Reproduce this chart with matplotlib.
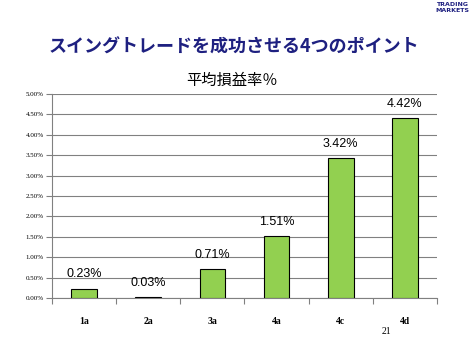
import matplotlib
matplotlib.use("Agg")
import matplotlib.pyplot as plt
from matplotlib.ticker import FuncFormatter, MultipleLocator

categories = ["1a", "2a", "3a", "4a", "4c", "4d"]
values = [0.23, 0.03, 0.71, 1.51, 3.42, 4.42]
value_labels = ["0.23%", "0.03%", "0.71%", "1.51%", "3.42%", "4.42%"]

plt.rcParams['font.family'] = ['Noto Sans CJK JP', 'DejaVu Sans']

fig = plt.figure(figsize=(4.75, 3.52), dpi=100)
fig.patch.set_facecolor("white")

ax = fig.add_axes([52/475, 1-298/352, (437-52)/475, (298-94)/352])
x = list(range(len(categories)))
ax.bar(x, values, width=0.40, color="#92D050", edgecolor="black", linewidth=0.8, zorder=3)
for xi, v, lab in zip(x, values, value_labels):
    ax.text(xi, v + 0.2, lab, ha="center", va="bottom", fontsize=9,
            family=["Liberation Sans", "DejaVu Sans"], color="black")

ax.set_xlim(-0.5, len(categories) - 0.5)
ax.set_ylim(0, 5.0)
ax.yaxis.set_major_locator(MultipleLocator(0.5))
ax.yaxis.set_major_formatter(FuncFormatter(lambda v, p: f"{v:.2f}%"))
ax.grid(axis="y", color="#808080", linewidth=0.8, zorder=0)
ax.set_xticks([i - 0.5 for i in range(len(categories) + 1)], minor=False)
ax.set_xticklabels([])
ax.set_xticks(x, minor=True)
ax.set_xticklabels(categories, minor=True)
ax.tick_params(axis="x", which="major", length=4, color="#808080", direction="out")
ax.tick_params(axis="x", which="minor", length=0, pad=14)
for lab in ax.get_xticklabels(minor=True):
    lab.set_family(["Liberation Serif", "DejaVu Serif"])
    lab.set_fontweight("bold")
    lab.set_fontsize(7)
ax.tick_params(axis="y", length=4, color="#808080", labelsize=5, pad=2)
for lab in ax.get_yticklabels():
    lab.set_family(["Liberation Serif", "DejaVu Serif"])
for side in ["top", "right"]:
    ax.spines[side].set_visible(False)
for side in ["left", "bottom"]:
    ax.spines[side].set_color("#808080")
    ax.spines[side].set_linewidth(0.8)

fig.text(234/475, 1-47/352, "スイングトレードを成功させる4つのポイント", ha="center", va="center",
         fontsize=13, fontweight="bold", color="#1E2080")
fig.text(232/475, 1-80/352, "平均損益率％", ha="center", va="center", fontsize=11, color="black")
fig.text(386/475, 1-331/352, "21", ha="center", va="center", fontsize=7,
         family=["Liberation Serif", "DejaVu Serif"])
fig.text(452/475, 1-4/352, "TRADING", ha="center", va="center", fontsize=4.5, fontweight="bold",
         color="#1E2080", family=["DejaVu Sans"])
fig.text(452/475, 1-11/352, "MARKETS", ha="center", va="center", fontsize=4.5, fontweight="bold",
         color="#1E2080", family=["DejaVu Sans"])

fig.savefig("out.png", dpi=100)
